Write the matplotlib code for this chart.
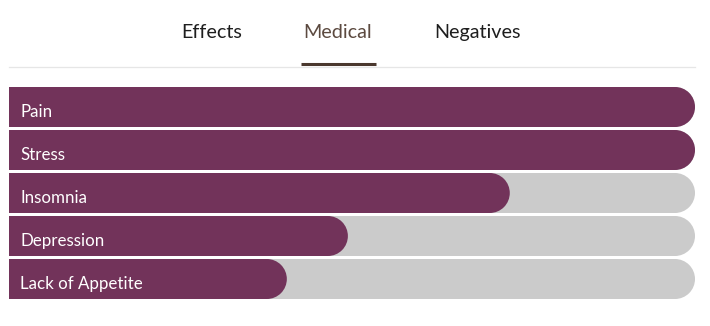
import matplotlib.pyplot as plt
from matplotlib.patches import Ellipse

# medical ratings, percent of full bar
conditions = ['Pain', 'Stress', 'Insomnia', 'Depression', 'Lack of Appetite']
scores = [100, 100, 73, 49.4, 40.5]
tabs = ['Effects', 'Medical', 'Negatives']
active_tab = 'Medical'

FILL = '#72335a'
TRACK = '#cbcbcb'

plt.rcParams['font.family'] = ['Lato', 'DejaVu Sans']

W, H = 710, 326
fig = plt.figure(figsize=(W / 100, H / 100), dpi=100)
fig.patch.set_facecolor('white')

# bar area in pixels
left_px, right_px = 9, 695
top_px, bot_px = 87, 299
row_px = 43
bar_px = 40

ax = fig.add_axes([left_px / W, (H - bot_px) / H,
                   (right_px - left_px) / W, (bot_px - top_px) / H])
ax.set_xlim(0, 100)
pad = bar_px / row_px / 2
ax.set_ylim(len(conditions) - 1 + pad, -pad)
ax.axis('off')

bar_h = bar_px / row_px
# cap radius in x data units so the end is a true half circle
cap = (bar_px / 2) / (right_px - left_px) * 100


def rounded_bar(y, value, color, z):
    ax.barh(y, value - cap, height=bar_h, left=0, color=color, zorder=z,
            linewidth=0)
    ax.add_patch(Ellipse((value - cap, y), 2 * cap, bar_h, color=color,
                         zorder=z, linewidth=0))


for i, (name, val) in enumerate(zip(conditions, scores)):
    rounded_bar(i, 100, TRACK, 1)
    rounded_bar(i, val, FILL, 2)
    ax.annotate(name, (0, i), xytext=(8, -7.3), textcoords='offset points',
                ha='left', va='baseline', color='white', fontsize=12.2,
                zorder=3)

# tab bar
tab_x = [212, 338, 477]
for t, x in zip(tabs, tab_x):
    col = '#5c4a40' if t == active_tab else '#1e1e1e'
    fig.text(x / W, 1 - 37.8 / H, t, ha='center', va='baseline',
             fontsize=14.2, color=col)

fig.add_artist(plt.Line2D([left_px / W, right_px / W], [1 - 66.5 / H] * 2,
                          color='#e6e6e6', linewidth=0.9))
fig.add_artist(plt.Line2D([301 / W, 376 / W], [1 - 64 / H] * 2,
                          color='#4a382e', linewidth=2.2,
                          solid_capstyle='butt'))

fig.savefig('out.png', dpi=100, facecolor='white')
